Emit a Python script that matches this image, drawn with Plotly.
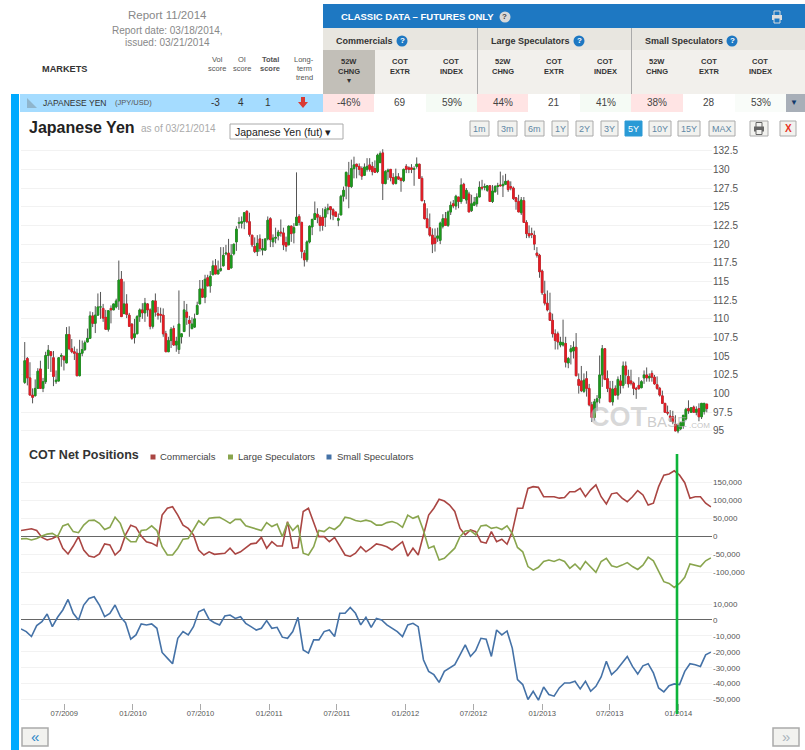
import pandas as pd
import plotly.graph_objects as go

# ---------- weekly JPY futures prices ----------
opens = [101.5,104.7,102.1,99.8,99.7,100.7,103.3,100.7,101.6,105.1,
105.6,104.8,101.6,101.7,105,105,104.1,107.9,106,105.6,
105.4,102.4,105.4,105.9,106.9,107.4,110.4,109.4,110.5,111.6,
111.4,110.2,108.6,111.4,111.2,111.6,112.4,115.3,110.7,112,
110.5,109.3,107.5,108,110.3,111.2,110.8,112,111.2,109,
112.4,110.7,110.6,110.5,108,105.6,107.1,108.7,106.5,105.9,
107.6,108.3,110.9,109.8,108.7,108.9,110.6,112,114,112.9,
115.5,114.4,115.9,117.1,116,116.5,117.1,118.7,118.8,116.8,
118.7,120.3,122.8,122.8,123,124.4,123,121.2,119.7,119,
120.7,119.2,119.2,120.7,123.4,
120.3,120.8,121.1,121.6,121.5,120.2,119.9,122.4,121.5,122.5,
123.7,122.9,118.8,117.9,120.3,122.3,123.3,124,123.6,123.6,
123.6,124.6,125,124.6,124.3,123.2,123.9,126.4,127.8,129.2,
127.7,130.1,130.7,130.4,130.1,129.2,130,130.6,130.4,130.1,
129.7,130.9,132.2,128.1,129.7,130,128.9,128.1,129,128.8,
128.5,130.4,130.2,130.2,130,130.4,130.7,128.8,125.4,123.4,
122.2,121.2,120.8,120.8,120.5,122.4,123.4,122.5,124.3,125.4,
125.1,126.3,125.7,128,125.9,126.7,124.5,125.2,125.4,126.3,
127.6,127.6,127.2,127.8,125.7,127,127.7,127.9,127.8,128,
128.4,127.7,127.5,126.2,125.7,124.2,125.8,122.9,121.4,
121.4,121.2,118.8,118.5,116.4,113.3,112.1,110.8,109.8,108,
108,106.5,106.5,106.7,104.1,105.6,105.7,106.2,101.9,101.7,
100.3,102,100.7,98.5,96.8,98.9,99.4,102.5,106,102,
100.7,98.9,100.7,99.8,101.7,101.1,103.7,102.3,101.7,101.4,
100.7,101.1,100.8,102.1,102.5,102.1,102.7,102.2,101.2,100.7,
99.7,98.7,97.5,97,96.9,95.9,95,95.3,95.7,96.6,
98,97.5,98.2,97.5,98,96.9,97.6,98.6]
highs = [106.9,104.9,104.2,100.7,101.9,103.4,104.4,102.1,105.6,106.5,
105.6,105.7,103.1,104.7,105.4,105,108.9,109,107.3,106.3,
106,107.2,107.1,107.1,108.7,111,110.9,111.7,113.4,113.6,
112,111.2,111.1,111.8,112,112.7,117.8,116.4,115,113.3,
110.8,109.4,110,110.5,111.4,112.1,112.8,112.1,111.4,112.5,
113.4,111.6,111.5,111.4,108.4,107.6,108.9,109.1,107.6,113.8,
108,112.4,112,110.4,110.2,110.7,112.3,115.2,115.2,115.9,
115.9,116.4,117.8,118,117.8,119.6,119.6,119.9,120.7,120,
120,122.4,123.6,123.7,124.3,124.5,124.2,121.2,120.9,121.2,
121.3,120.7,120.7,123.7,123.6,
121.3,122.2,121.9,123.3,122.2,121,122.5,122.5,122.8,129.6,
124,123,119.2,120.5,122.5,123.4,125.7,124.8,123.9,124.8,
125,125.4,125,124.8,124.3,124.1,126.6,127.7,129.7,131,
131.3,131.7,130.7,130.8,130.4,130.8,131.5,131.5,131,131.2,
132.1,132.4,132.7,129.9,130.1,130,129.5,130.1,129.5,128.9,
130.1,130.7,130.4,130.7,130.4,131.6,130.7,129.1,125.9,124.8,
124.1,122.1,122.1,122.2,123,124,124.3,124.5,125.7,125.9,
126.6,126.3,128.8,128.2,127.5,127,126.6,126.3,126.8,128.4,
128.6,128.1,127.9,127.9,127.9,127.9,128.2,129.7,129.2,129.4,
128.6,128.4,127.7,126.3,126.6,126.3,126.3,123.2,122.5,
122.2,121.8,119.6,118.7,116.6,115.1,113.8,113.5,110.7,108.6,
108.3,107.6,109.9,107.6,104.9,106.5,107,108.1,102.7,103.7,
102.7,103,101.3,98.9,99.3,99.8,105.1,106.5,106.1,103.1,
101.7,101.7,101.1,102.3,102.5,104.3,104.3,103.2,103.2,101.6,
100.9,102.2,101.8,103.1,103.5,102.7,103.1,102.5,102.3,100.9,
100.4,98.7,98.4,97.8,97.7,97.1,96,96.2,97.1,98.1,
99.1,98.2,98.4,98.3,98.7,98.7,98.7,98.6]
lows = [101.3,101.1,99.8,98.7,99.7,100.7,100.7,100.2,101.3,103.3,
102.9,101,101.3,101.6,103.6,103.1,104.1,105.8,105.4,104.5,
102.3,102.3,105,105.7,106.9,107.3,108.9,108.1,110.6,110,
109.6,108.6,108.3,109.4,111.2,111.4,111.2,110.3,110.7,110.1,
109,107.2,106.7,108,109.6,110,109.6,110.3,108.6,108.7,
110.3,109.9,109.5,107.6,105.6,105.6,106.1,106.4,105.6,105.3,
106.7,108.3,109.2,107.6,108.6,108.8,110.6,112,112.9,112.1,
114.4,113.5,115.9,116,116,116.3,117,118.5,116.6,116.8,
118.5,119.1,122.1,122.1,122,122.8,121,119.6,118.8,118.4,
119,118.5,119.1,120.5,119.6,
119.6,120.1,120.5,121,119.2,119,119.9,120.3,120.1,122.5,
122.5,118.1,117,117.6,120.1,121.2,123.3,122.8,121.7,121.8,
122.3,124,123.3,123.2,123.7,122.4,123.9,125.7,126,124.8,
127.5,128.8,128.8,129.2,128.6,129.2,129.7,129.7,129.2,129.6,
129.5,130.9,125.9,128,128.6,128.4,127.9,128,128.6,127,
128.3,129.5,129.5,129.5,127.8,130.1,128.8,125.8,123.3,122.2,
121,118.8,119,120.3,120,122.1,122.5,122.3,123.9,124.8,
124.6,124.8,125.4,126.1,125.4,124.3,124.3,125.2,125,126.3,
127.2,127.2,127,125.7,125.5,126.9,126.6,127.8,126.3,127.9,
127,127.2,125.9,124.6,124.3,123.9,122.9,120.8,120.8,
120.8,119.2,118.2,115.5,113.2,111.8,111,109.8,107.5,105.9,
105.9,106.2,106.3,103.5,103.4,103.9,104.7,102.3,100,100.2,
100.1,99.6,98.3,96.2,96.4,97.7,98.7,100.9,101.8,100.2,
98.9,98.4,99.8,99.2,100,100.7,101.3,100.8,101.1,99.8,
99.3,100.5,100.7,101.3,101.6,101.6,101.6,101.2,100.5,99.6,
98.7,97.5,97.1,96.2,95.9,95,94.7,95.1,95.3,96.4,
97.3,97.5,97.5,97.1,96.3,96.6,97.2,97.5]
closes = [104.4,102.1,99.8,99.5,100.7,103,100.7,101.6,105.1,105.8,
105.1,102.3,101.8,104.8,105.1,104.5,107.9,106,105.6,105.4,
102.4,105.4,105.9,106.8,107.4,110.4,109.4,110.5,111.6,111.6,
110.1,108.6,111.1,111.2,112,112.4,115.2,110.3,112,110.6,
109,107.4,108,110.3,111.2,110.8,112.1,111.2,109,112.4,
110.9,110.5,110.5,108,105.6,107.1,108.6,106.5,107,109.3,
108,111.2,110.2,109.4,109.3,110,111.8,114,112.9,115.3,
114.4,115.7,117.1,116,116.5,116.7,118.5,118.8,116.6,118.5,
120,122,122.9,123,124.2,123,121.3,119.9,119,120.1,
119.4,119.4,120.7,123.2,120.6,
120.8,120.9,121.6,121.5,119.9,119.7,122.4,121.4,122.2,123.6,
122.9,119,117.9,120.3,122.4,123.3,124.1,123.6,122.5,122.5,
124.6,124.8,124.6,123.9,123.7,123.4,126.4,127.2,129.6,127.7,
130.1,130.6,130.4,130,129.1,130.3,130.4,130,129.7,129.6,
131.9,132.1,128.1,129.7,129.9,128.9,128.1,129,128.7,128.5,
130,130,130,130,130.1,130.7,128.8,125.8,123.4,122.2,
121.2,120,120.1,121.1,122.8,123.4,122.5,124.3,125.2,125.1,
126.4,125.7,127.9,126.1,127.2,124.3,125.4,125.6,126.3,127.6,
127.5,127.7,127.8,125.7,127.1,127.7,127.8,127.8,128,128.4,
127.3,127.5,126.1,125.7,124.3,125.9,122.9,121.4,121.1,
121.3,120,118.5,116.3,113.5,112.1,111.2,109.8,108,107.1,
106.9,106.9,106.8,104.2,104.7,106,106.2,102.4,101.1,100.4,
101.8,100.7,98.5,96.8,98.9,99.3,102.5,106,101.9,100.7,
98.9,100.6,99.8,101.9,101.1,103.7,102.5,101.3,101.4,100.7,
100.6,100.7,101.6,102.5,102.1,102.3,102.2,101.3,100.7,99.8,
98.7,97.5,97.4,96.8,96.2,95,95.7,96.1,97.1,97.9,
97.7,98.1,97.5,97.9,96.9,98.7,98.7,98]

# ---------- COT net positions, thousands of contracts, sampled fortnightly ----------
commercials = [16,18,21,16,-3,-10,-6,1,-33,-49,-27,-1,-38,-55,-58,-49,-21,-24,-52,-38,
4,31,25,1,-15,-19,-27,59,78,82,59,31,22,4,-38,-52,-43,-50,-49,-47,
-33,-49,-43,-31,-21,-19,-3,-33,-15,-27,-27,41,-33,-31,69,78,41,-1,-1,-15,
-3,-27,-52,-56,-47,-29,-43,-33,-21,-24,-29,-38,-27,-15,-55,
-33,-52,4,59,78,103,98,87,69,22,4,18,13,-15,-19,13,-15,-8,-22,13,
78,78,133,138,136,110,110,110,106,108,124,124,133,110,129,143,110,90,118,121,
106,96,110,127,115,87,92,138,170,173,182,170,149,106,110,110,92,82]
large_specs = [-7,-6,-10,-6,1,6,8,-1,29,34,13,10,31,44,45,36,19,25,53,36,
-3,-15,-15,16,18,29,16,-29,-52,-52,-33,-8,-6,18,43,31,50,52,53,45,
36,47,47,29,25,22,16,38,27,34,-1,38,16,31,-47,-52,-29,16,13,25,
19,31,53,50,44,41,45,41,31,31,38,41,36,25,59,
50,56,16,-33,-27,-66,-61,-47,-33,-1,15,16,4,29,31,22,25,19,29,8,
-31,-43,-84,-94,-86,-70,-66,-70,-64,-70,-89,-77,-92,-70,-84,-100,-70,-61,-82,-86,
-80,-73,-84,-92,-80,-58,-68,-98,-126,-131,-142,-131,-114,-77,-80,-84,-68,-60]
small_specs = [-5.6,-7.3,-10.4,-3.5,-1,3.8,-4.2,1.7,6.3,12.9,4.2,0,9.4,13.5,14.6,9.4,2.1,4.2,9.4,2.1,
-1.7,-12.1,-9.4,-2.5,-3.1,-2.5,-5.2,-20.4,-24,-27.5,-11.5,-7.3,-9.4,-4.2,5.2,6.7,0.4,-1.7,-3.1,2.5,
3.1,1,2.1,-2.1,-4.2,-6.3,-5.2,-0.4,-5.2,-4.6,-10.8,-11.5,-7.3,1.7,-18.8,-20.8,-12.5,-12.5,-7.3,-6.3,
-10.4,4.2,4.2,7.9,4.2,-3.1,1.7,-4.6,1,0,-3.1,-5.2,-7.3,-10.4,-3.1,
-2.1,-4.2,-25,-32.3,-34.4,-39.2,-32.3,-30.2,-28.1,-21.9,-15.6,-22.9,-19.2,-11.5,-12.1,-22.9,-6.3,-9.4,-6.9,-17.7,
-37.5,-40.6,-50,-44.8,-50.4,-42.1,-46.9,-47.9,-42.7,-39.6,-39.6,-38.5,-43.3,-38.5,-44.8,-41.7,-35.8,-26,-34.4,-31.3,
-27.1,-22.9,-29.2,-34,-28.8,-27.5,-33.3,-42.7,-45.2,-41.3,-40.2,-40.6,-32.3,-27.5,-28.1,-29.2,-21.9,-20.2]

# ---------- axis labels ----------
date_ticks = ["2009-07-01","2010-01-01","2010-07-01","2011-01-01","2011-07-01",
              "2012-01-01","2012-07-01","2013-01-01","2013-07-01","2014-01-01"]
date_labels = ["07/2009","01/2010","07/2010","01/2011","07/2011",
               "01/2012","07/2012","01/2013","07/2013","01/2014"]
price_ticks = [95,97.5,100,102.5,105,107.5,110,112.5,115,117.5,120,122.5,125,127.5,130,132.5]
price_labels = ["95","97.5","100","102.5","105","107.5","110","112.5","115","117.5","120","122.5","125","127.5","130","132.5"]
cot_ticks = [150,100,50,0,-50,-100]
cot_labels = ["150,000","100,000","50,000","0","-50,000","-100,000"]
small_ticks = [10,0,-10,-20,-30,-40,-50]
small_labels = ["10,000","0","-10,000","-20,000","-30,000","-40,000","-50,000"]

bar_dates = pd.date_range(end="2014-03-18", periods=len(closes), freq="7D")
cot_dates = pd.date_range(start="2009-03-07", periods=len(commercials), freq="14D")

W, H = 805, 750
FONT = "Liberation Sans"
def px(x): return x / W
def py(y): return 1 - y / H

shapes, notes = [], []
def rect(x0, y0, x1, y1, fill, line=None, lw=1, layer="below"):
    shapes.append(dict(type="rect", xref="paper", yref="paper", x0=px(x0), x1=px(x1), y0=py(y0), y1=py(y1),
                       fillcolor=fill, line=dict(color=line or fill, width=lw if line else 0), layer=layer))
def seg(x0, y0, x1, y1, color, lw=1, layer="below"):
    shapes.append(dict(type="line", xref="paper", yref="paper", x0=px(x0), x1=px(x1), y0=py(y0), y1=py(y1),
                       line=dict(color=color, width=lw), layer=layer))
def circle(cx, cy, r, fill):
    shapes.append(dict(type="circle", xref="paper", yref="paper", x0=px(cx-r), x1=px(cx+r), y0=py(cy+r), y1=py(cy-r),
                       fillcolor=fill, line=dict(width=0), layer="below"))
def poly(points, fill):
    d = "M" + " L".join(f"{px(a):.5f},{py(b):.5f}" for a, b in points) + " Z"
    shapes.append(dict(type="path", xref="paper", yref="paper", path=d, fillcolor=fill, line=dict(width=0), layer="below"))
def text(x, y, s, size=9, color="#444444", align="center", bold=False):
    notes.append(dict(xref="paper", yref="paper", x=px(x), y=py(y), text=f"<b>{s}</b>" if bold else s, showarrow=False,
                      xanchor=align, yanchor="middle", font=dict(family=FONT, size=size, color=color), borderpad=0))
def printer(cx, cy, color, paper="#ffffff"):
    rect(cx-3, cy-6, cx+3, cy-1, paper, color, 1)
    rect(cx-5, cy-2, cx+5, cy+3, color)
    rect(cx-3, cy+1, cx+3, cy+6, paper, color, 1)

# ---- header ----
text(167, 15, "Report 11/2014", 11.5, "#888888")
text(167, 30, "Report date: 03/18/2014,", 10, "#888888")
text(167, 42, "issued: 03/21/2014", 10, "#888888")
text(64, 69, "MARKETS", 9.2, "#333333", bold=True)
for cx, a, b, strong in [(217, "Vol", "score", False), (242, "OI", "score", False), (270, "Total", "score", True)]:
    text(cx, 59, a, 7.5, "#555555", bold=strong)
    text(cx, 68, b, 7.5, "#555555", bold=strong)
for cy, s in [(59, "Long-"), (68, "term"), (77, "trend")]:
    text(304, cy, s, 7.5, "#555555")

rect(323, 4, 805, 28, "#1e78c2")
text(340, 17, "CLASSIC DATA – FUTURES ONLY", 9.5, "#ffffff", "left", True)
circle(505, 17, 5.5, "#d9d9d9")
text(505, 17, "?", 8, "#444444", bold=True)
printer(777, 17, "#dddddd", "#1e78c2")
rect(323, 28, 805, 50, "#e8e6e0")
rect(323, 50, 805, 94, "#f2f0ec")
rect(323, 50, 375, 94, "#c2bfb8")
for tx, qx, s in [(335, 402, "Commercials"), (490, 579, "Large Speculators"), (644, 732, "Small Speculators")]:
    text(tx, 41, s, 9, "#333333", "left", True)
    circle(qx, 41, 5.5, "#1e78c2")
    text(qx, 41, "?", 8, "#ffffff", bold=True)
seg(477.5, 28, 477.5, 94, "#aaaaaa")
seg(631.5, 28, 631.5, 94, "#aaaaaa")
for cx, a, b in [(349, "52W", "CHNG"), (400, "COT", "EXTR"), (451, "COT", "INDEX"),
                 (503, "52W", "CHNG"), (554, "COT", "EXTR"), (605, "COT", "INDEX"),
                 (657, "52W", "CHNG"), (709, "COT", "EXTR"), (760, "COT", "INDEX")]:
    text(cx, 61, a, 7.5, "#333333", bold=True)
    text(cx, 72, b, 7.5, "#333333", bold=True)
text(349, 81, "▾", 8, "#333333")

# ---- market row ----
rect(20, 94, 323, 112, "#a5dcff")
poly([(27, 98), (27, 108), (37, 108)], "#8fb5cc")
text(42, 103, "JAPANESE YEN", 8.5, "#333333", "left")
text(114, 103, "(JPY/USD)", 7.5, "#555555", "left")
text(216, 103, "-3", 10, "#333333")
text(241, 103, "4", 10, "#333333")
text(268, 103, "1", 10, "#333333")
poly([(301, 97), (305, 97), (305, 102), (308, 102), (303, 108), (298, 102), (301, 102)], "#d93a32")
for x0, x1, fill, val in [(323, 374, "#ffe4e4", "-46%"), (374, 426, "#ffffff", "69"), (426, 477, "#f5fbf5", "59%"),
                          (477, 528, "#ffe4e4", "44%"), (528, 580, "#ffffff", "21"), (580, 631, "#f5fbf5", "41%"),
                          (631, 683, "#ffe4e4", "38%"), (683, 735, "#ffffff", "28"), (735, 786, "#f9fcf9", "53%")]:
    rect(x0, 94, x1, 112, fill)
    text((x0 + x1) / 2, 103, val, 10, "#444444")
rect(786, 94, 805, 112, "#a8afb8")
text(794, 103, "▼", 8, "#123a6b")
rect(11, 94, 19, 750, "#00aaff")

# ---- toolbar ----
text(28, 128, "Japanese Yen", 16, "#222222", "left", True)
text(140, 129, "as of 03/21/2014", 10, "#aaaaaa", "left")
rect(230, 124, 343, 139, "#ffffff", "#aaaaaa")
text(234, 131.5, "Japanese Yen (fut) ▾", 10.5, "#222222", "left")
for x0, x1, s in [(470, 489, "1m"), (498, 517, "3m"), (525, 544, "6m"), (552, 568, "1Y"), (576, 593, "2Y"),
                  (601, 618, "3Y"), (625, 642, "5Y"), (649, 671, "10Y"), (678, 700, "15Y"), (709, 735, "MAX")]:
    active = s == "5Y"
    rect(x0, 121, x1, 136, "#2a9ad6" if active else "#f2f2ef", "#2a9ad6" if active else "#aaaaaa")
    text((x0 + x1) / 2, 128.5, s, 9, "#ffffff" if active else "#5f87a5")
rect(750, 121, 768, 136, "#f2f2ef", "#aaaaaa")
printer(759, 128.5, "#666666", "#f2f2ef")
rect(780, 121, 796, 136, "#f2f2ef", "#aaaaaa")
text(788, 128.5, "X", 10, "#e8321e", bold=True)

# ---- lower panel labels ----
text(28, 455, "COT Net Positions", 12.5, "#333333", "left", True)
for mx, tx, color, s in [(153, 159, "#aa4643", "Commercials"), (230.5, 237, "#89a54e", "Large Speculators"),
                         (329, 336, "#4572a7", "Small Speculators")]:
    rect(mx - 2.5, 454.5, mx + 2.5, 459.5, color)
    text(tx, 457, s, 9.5, "#444444", "left")

# ---- watermark ----
text(589, 417, "<b>COT</b>", 27, "rgba(190,190,190,0.6)", "left")
text(646, 421, "BASE", 15, "rgba(170,170,170,0.6)", "left")
text(688, 425, ".COM", 8, "rgba(170,170,170,0.7)", "left")

# ---- page buttons ----
rect(22, 728, 48, 746, "#f2f2ef", "#aaaaaa", 1.5)
text(35, 736, "«", 15, "#2a86c8")
rect(773, 728, 799, 746, "#f2f2ef", "#aaaaaa", 1.5)
text(786, 736, "»", 15, "#aab4bc")

# ---- highlighted date marker ----
seg(677, 454, 677, 714, "#0db43a", 2.6, layer="above")

fig = go.Figure()
# full range candles drawn in grey give the wicks
fig.add_trace(go.Candlestick(
    x=bar_dates, open=opens, high=highs, low=lows, close=closes, xaxis="x", yaxis="y", whiskerwidth=0,
    increasing=dict(line=dict(color="#555555", width=1), fillcolor="#555555"),
    decreasing=dict(line=dict(color="#555555", width=1), fillcolor="#555555"),
    name="Range", hoverinfo="skip"))
# body-only candles in green/red on top
fig.add_trace(go.Candlestick(
    x=bar_dates, open=opens, close=closes,
    high=[max(a, b) for a, b in zip(opens, closes)], low=[min(a, b) for a, b in zip(opens, closes)],
    xaxis="x", yaxis="y", whiskerwidth=0,
    increasing=dict(line=dict(color="#1c9a1c", width=0.8), fillcolor="#1c9a1c"),
    decreasing=dict(line=dict(color="#e81c24", width=0.8), fillcolor="#e81c24"),
    name="JPY"))
fig.add_trace(go.Scatter(x=cot_dates, y=commercials, mode="lines", name="Commercials",
                         line=dict(color="#aa4643", width=1.6), xaxis="x", yaxis="y2"))
fig.add_trace(go.Scatter(x=cot_dates, y=large_specs, mode="lines", name="Large Speculators",
                         line=dict(color="#89a54e", width=1.6), xaxis="x", yaxis="y2"))
fig.add_trace(go.Scatter(x=cot_dates, y=small_specs, mode="lines", name="Small Speculators",
                         line=dict(color="#4572a7", width=1.6), xaxis="x", yaxis="y3"))

def yaxis(top, bottom, lo, hi, ticks, labels, size, zero):
    return dict(domain=[py(bottom), py(top)], range=[lo, hi], anchor="x", side="right", tickmode="array",
                tickvals=ticks, ticktext=labels, ticks="", showline=False, gridcolor="#f2f2f2", gridwidth=1,
                zeroline=zero, zerolinecolor="#666666", zerolinewidth=1.3, fixedrange=True,
                tickfont=dict(family=FONT, size=size, color="#555555"))

fig.update_layout(
    width=W, height=H, autosize=False, margin=dict(l=0, r=0, t=0, b=0, pad=0),
    paper_bgcolor="#ffffff", plot_bgcolor="rgba(0,0,0,0)", showlegend=False, boxgap=0.12,
    shapes=shapes, annotations=notes,
    xaxis=dict(domain=[px(21), px(712)], range=["2009-03-07", "2014-04-01"], anchor="y3", type="date",
               rangeslider=dict(visible=False), showgrid=False, zeroline=False, showline=False,
               tickmode="array", tickvals=date_ticks, ticktext=date_labels, ticks="outside", ticklen=6,
               ticklabelstandoff=-3, tickcolor="#aaaaaa", tickwidth=1,
               tickfont=dict(family=FONT, size=7.6, color="#555555")),
    yaxis=yaxis(145, 436, 94.33, 133.26, price_ticks, price_labels, 10, False),
    yaxis2=yaxis(460, 592, -154.7, 212, cot_ticks, cot_labels, 8, True),
    yaxis3=yaxis(592, 703, -52.2, 17.6, small_ticks, small_labels, 8, True),
)
fig.write_html("out.html", config={"displayModeBar": False},
               post_script="document.body.style.margin='0';document.body.style.overflow='hidden';")
